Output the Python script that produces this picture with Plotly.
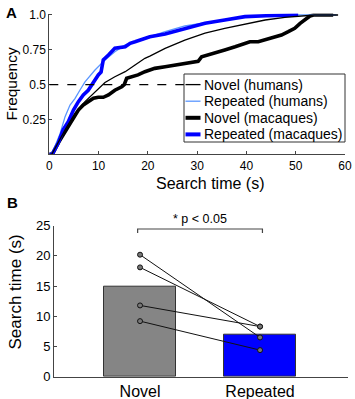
import plotly.graph_objects as go

W, H = 355, 399
FONT = "Liberation Sans, Arial, sans-serif"

# ---------- Panel A data (cumulative distributions) ----------
nov_hum_t = [0, 0.5, 3.2, 5.2, 7.24, 9.27, 11.3, 13.3, 15.4, 17.4, 19.4, 20.4, 23.5, 27.5,
             31.6, 35.6, 39.7, 43.8, 47.8, 51.9, 53.9, 58.6]
nov_hum_f = [0, 0.0, 0.175, 0.294, 0.378, 0.45, 0.515, 0.557, 0.593, 0.641, 0.689, 0.705,
             0.76, 0.82, 0.869, 0.904, 0.935, 0.964, 0.983, 0.995, 1.0, 1.0]

rep_hum_t = [0, 0.5, 2.2, 3.2, 4.2, 5.2, 6.2, 7.24, 9.27, 11.3, 13.3, 15.4, 17.4, 19.4,
             23.5, 27.5, 31.6, 35.6, 39.7, 46.1, 58.3]
rep_hum_f = [0, 0.0, 0.15, 0.27, 0.354, 0.40, 0.46, 0.52, 0.605, 0.677, 0.736, 0.785, 0.808,
             0.833, 0.88, 0.921, 0.945, 0.969, 0.988, 1.0, 1.0]

nov_mac_t = [0, 0.6, 1.8, 2.8, 3.85, 4.9, 5.9, 6.9, 7.9, 8.96, 9.94, 10.95, 12.0, 13.3, 14.7,
             15.2, 15.7, 16.7, 18.0, 19.4, 20.4, 21.4, 23.5, 25.5, 27.5, 29.6, 30.2, 30.9, 33.6,
             35.6, 37.7, 39.7, 40.7, 42.4, 45.1, 47.1, 48.5, 49.8, 50.9, 51.9, 52.9, 53.6, 57.6]
nov_mac_f = [0, 0.0, 0.08, 0.139, 0.198, 0.27, 0.318, 0.354, 0.378, 0.402, 0.409, 0.409, 0.426,
             0.46, 0.485, 0.50, 0.546, 0.557, 0.57, 0.593, 0.605, 0.617, 0.629, 0.641, 0.653,
             0.665, 0.668, 0.70, 0.725, 0.749, 0.772, 0.797, 0.808, 0.808, 0.833, 0.856, 0.88,
             0.904, 0.94, 0.969, 0.993, 1.0, 1.0]

rep_mac_t = [0, 0.6, 1.8, 2.8, 3.85, 4.9, 5.9, 6.9, 7.9, 8.96, 9.94, 10.5, 10.95, 12.0, 13.3,
             15.4, 16.4, 17.4, 19.4, 20.4, 23.5, 27.5, 31.6, 35.6, 39.7, 44.0, 50.5]
rep_mac_f = [0, 0.0, 0.08, 0.175, 0.234, 0.318, 0.378, 0.426, 0.46, 0.52, 0.57, 0.59, 0.677,
             0.713, 0.761, 0.772, 0.797, 0.808, 0.833, 0.844, 0.864, 0.904, 0.94, 0.964, 0.988,
             0.995, 1.0]

series_names = ["Novel (humans)", "Repeated (humans)", "Novel (macaques)", "Repeated (macaques)"]
series_colors = ["#000000", "#5A96FF", "#000000", "#0000FF"]
series_widths = [1.3, 1.3, 3.6, 3.6]

# ---------- Panel B data ----------
conditions = ["Novel", "Repeated"]
mean_times = [14.9, 6.9]
bar_colors = ["#858585", "#0000FF"]
subj_novel = [20.2, 18.1, 11.8, 9.2]
subj_repeated = [6.5, 8.3, 8.3, 4.4]
sig_label = "* p < 0.05"

fig = go.Figure()

curves = [(nov_hum_t, nov_hum_f), (rep_hum_t, rep_hum_f),
          (nov_mac_t, nov_mac_f), (rep_mac_t, rep_mac_f)]
order = [2, 1, 3, 0]
for i in order:
    t, f = curves[i]
    fig.add_trace(go.Scatter(x=t, y=f, mode="lines", name=series_names[i],
                             line=dict(color=series_colors[i], width=series_widths[i]),
                             xaxis="x", yaxis="y", showlegend=False))

# Panel B bars
xpos = [1, 2]
fig.add_trace(go.Bar(x=xpos, y=mean_times, width=0.6,
                     marker=dict(color=bar_colors, line=dict(color="#333333", width=1)),
                     xaxis="x2", yaxis="y2", showlegend=False))
for a, b in zip(subj_novel, subj_repeated):
    fig.add_trace(go.Scatter(x=xpos, y=[a, b], mode="lines+markers",
                             line=dict(color="#111111", width=1),
                             marker=dict(size=5, color="#777777", line=dict(color="#111111", width=1)),
                             xaxis="x2", yaxis="y2", showlegend=False))


def px(x):
    return x / W


def py(y):
    return 1 - y / H


shapes = []
annotations = []

# dashed 0.5 line
shapes.append(dict(type="line", xref="x", yref="y", x0=0, x1=27.5, y0=0.5, y1=0.5,
                   line=dict(color="#000000", width=1.3, dash="dash"), layer="above"))

# legend box
lx0, lx1, ly0, ly1 = 184, 345, 74, 142
shapes.append(dict(type="rect", xref="paper", yref="paper", x0=px(lx0), x1=px(lx1),
                   y0=py(ly1), y1=py(ly0), fillcolor="white",
                   line=dict(color="#333333", width=1), layer="above"))
rows = [84.6, 101.2, 117.8, 134.4]
for i, r in enumerate(rows):
    shapes.append(dict(type="line", xref="paper", yref="paper", x0=px(185.5), x1=px(200.5),
                       y0=py(r), y1=py(r),
                       line=dict(color=series_colors[i], width=series_widths[i] + (0.4 if i >= 2 else 0)),
                       layer="above"))
    annotations.append(dict(text=series_names[i], xref="paper", yref="paper", x=px(201.5), y=py(r),
                            xanchor="left", yanchor="middle", showarrow=False,
                            font=dict(family=FONT, size=14, color="#000000")))

# significance bracket
shapes.append(dict(type="path", xref="x2", yref="y2",
                   path="M 0.98 23.8 L 0.98 24.45 L 2.02 24.45 L 2.02 23.8",
                   line=dict(color="#444444", width=1.2)))
annotations.append(dict(text=sig_label, xref="paper", yref="paper", x=px(200), y=py(218.5),
                        xanchor="center", yanchor="middle", showarrow=False,
                        font=dict(family=FONT, size=12.5, color="#000000")))

# panel labels and axis titles
annotations += [
    dict(text="<b>A</b>", xref="paper", yref="paper", x=px(11.5), y=py(12), showarrow=False,
         xanchor="center", yanchor="middle", font=dict(family=FONT, size=15, color="#000")),
    dict(text="<b>B</b>", xref="paper", yref="paper", x=px(12.5), y=py(202), showarrow=False,
         xanchor="center", yanchor="middle", font=dict(family=FONT, size=15, color="#000")),
    dict(text="Frequency", xref="paper", yref="paper", x=px(10.5), y=py(84), showarrow=False,
         textangle=-90, xanchor="center", yanchor="middle",
         font=dict(family=FONT, size=15.5, color="#000")),
    dict(text="Search time (s)", xref="paper", yref="paper", x=px(210), y=py(183), showarrow=False,
         xanchor="center", yanchor="middle", font=dict(family=FONT, size=16, color="#000")),
    dict(text="Search time (s)", xref="paper", yref="paper", x=px(15), y=py(292.5), showarrow=False,
         textangle=-90, xanchor="center", yanchor="middle",
         font=dict(family=FONT, size=17, color="#000")),
]

axis_common = dict(showgrid=False, zeroline=False, showline=True, linecolor="#444444", linewidth=1,
                   ticks="inside", ticklen=3, tickcolor="#444444", tickwidth=1, automargin=False)

fig.update_layout(
    template="none",
    width=W, height=H, margin=dict(l=0, r=0, t=0, b=0, pad=0), autosize=False,
    paper_bgcolor="white", plot_bgcolor="white",
    font=dict(family=FONT, color="#000000"),
    showlegend=False,
    xaxis=dict(domain=[px(49.3), px(345)], range=[0, 60], tickvals=[0, 10, 20, 30, 40, 50, 60],
               tickfont=dict(size=12), anchor="y", **axis_common),
    yaxis=dict(domain=[py(154.3), py(13.6)], range=[0, 1.01], tickvals=[0.25, 0.5, 0.75, 1.0],
               ticktext=["0.25", "0.5", "0.75", "1.0"], tickfont=dict(size=12), anchor="x",
               **axis_common),
    xaxis2=dict(domain=[px(54), px(348)], range=[0.283, 2.733], tickvals=xpos, ticktext=conditions,
                tickfont=dict(size=16), anchor="y2", showgrid=False, zeroline=False, showline=True,
                linecolor="#444444", linewidth=1, ticks="", automargin=False),
    yaxis2=dict(domain=[py(376.7), py(225.7)], range=[0, 25], tickvals=[0, 5, 10, 15, 20, 25],
                tickfont=dict(size=13), anchor="x2", **axis_common),
    shapes=shapes, annotations=annotations,
    bargap=0,
)

fig.write_html("out.html", config={"displayModeBar": False},
               post_script="document.body.style.margin='0';document.body.style.overflow='hidden';")
